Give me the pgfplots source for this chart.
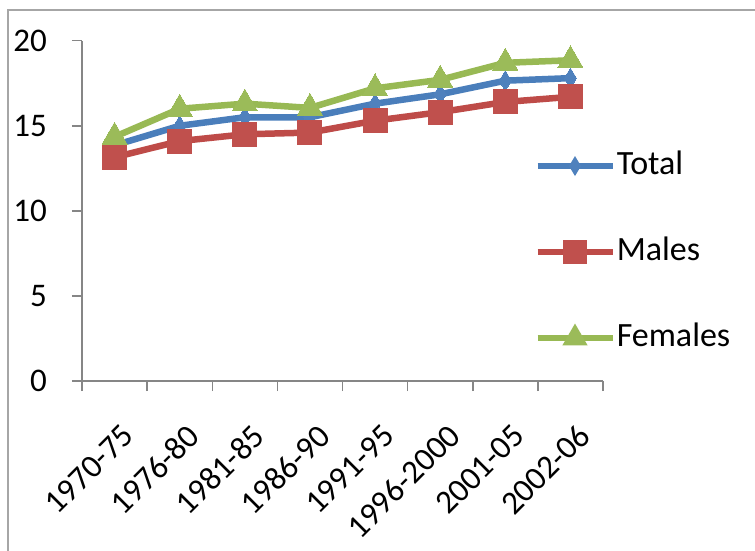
\documentclass[border=0pt]{standalone}
\usepackage{fontspec}
\setmainfont{Carlito}
\usepackage{pgfplots}
\pgfplotsset{compat=1.18}

\definecolor{totalline}{HTML}{4A7EBB}
\definecolor{totalmark}{HTML}{4F81BD}
\definecolor{maleline}{HTML}{BE4B48}
\definecolor{malemark}{HTML}{C0504D}
\definecolor{femline}{HTML}{98B954}
\definecolor{femmark}{HTML}{9BBB59}
\definecolor{axisgray}{HTML}{868686}
\definecolor{framegray}{HTML}{A6A6A6}

\newcommand\lbl{\fontsize{33}{40}\selectfont}
\newcommand\leg{\fontsize{34}{40}\selectfont}

\begin{document}
\begin{tikzpicture}[x=1pt,y=1pt]
\path[use as bounding box] (0,0) rectangle (755,551);
% chart area border (top and left edges)
\draw[framegray, line width=2.5pt] (8,-10) -- (8,541) -- (770,541);

\begin{axis}[
  at={(82pt,170pt)}, anchor=south west,
  scale only axis, width=521pt, height=340.3pt,
  xmin=-0.5, xmax=7.5, ymin=0, ymax=20,
  axis x line=bottom, axis y line=left,
  axis line style={draw=axisgray, line width=1.5pt, -},
  every tick/.append style={axisgray, line width=1.5pt},
  tick align=outside,
  major tick length=10pt, minor tick length=10pt,
  ytick={0,5,10,15,20},
  xtick={0,...,7},
  xticklabels={1970-75,1976-80,1981-85,1986-90,1991-95,1996-2000,2001-05,2002-06},
  minor xtick={-0.5,0.5,...,7.5},
  major x tick style={draw=none},
  /pgf/number format/assume math mode=true,
  ticklabel style={text=black, font=\lbl},
  yticklabel style={anchor=east, inner sep=0pt, xshift=-22pt},
  xticklabel style={xshift=6pt, yshift=-27pt, rotate=45, anchor=north east, inner sep=0pt},
  clip=false,
  line width=6.5pt,
  legend style={
    at={(0.8618,0.379)}, anchor=west,
    draw=none, fill=none, font=\leg, inner sep=0pt,
    row sep=56pt, column sep=0pt,
    nodes={inner sep=0pt, text height=23pt, text depth=7pt},
  },
  legend cell align=left,
  legend image code/.code={
    \draw[#1, mark=none] (0pt,0pt) -- (75pt,0pt);
    \draw[#1, line width=0pt, draw opacity=0] plot coordinates {(37.5pt,0pt)};
  },
  /tikz/every odd column/.append style={column sep=1pt},
]
\addplot[totalline, mark=diamond*, mark size=8pt,
  mark options={fill=totalmark, draw=totalmark, line width=0pt, yscale=1.25}]
  coordinates {(0,13.85) (1,15.0) (2,15.5) (3,15.5) (4,16.3) (5,16.85) (6,17.65) (7,17.8)};
\addlegendentry{Total}

\addplot[maleline, mark=square*, mark size=12pt,
  mark options={fill=malemark, draw=malemark, line width=0pt}]
  coordinates {(0,13.15) (1,14.1) (2,14.5) (3,14.6) (4,15.3) (5,15.8) (6,16.4) (7,16.7)};
\addlegendentry{Males}

\addplot[femline, mark=triangle*, mark size=14.5pt,
  mark options={fill=femmark, draw=femmark, line width=0pt}]
  coordinates {(0,14.35) (1,16.0) (2,16.3) (3,16.05) (4,17.2) (5,17.7) (6,18.7) (7,18.85)};
\addlegendentry{Females}
\end{axis}
\end{tikzpicture}
\end{document}
